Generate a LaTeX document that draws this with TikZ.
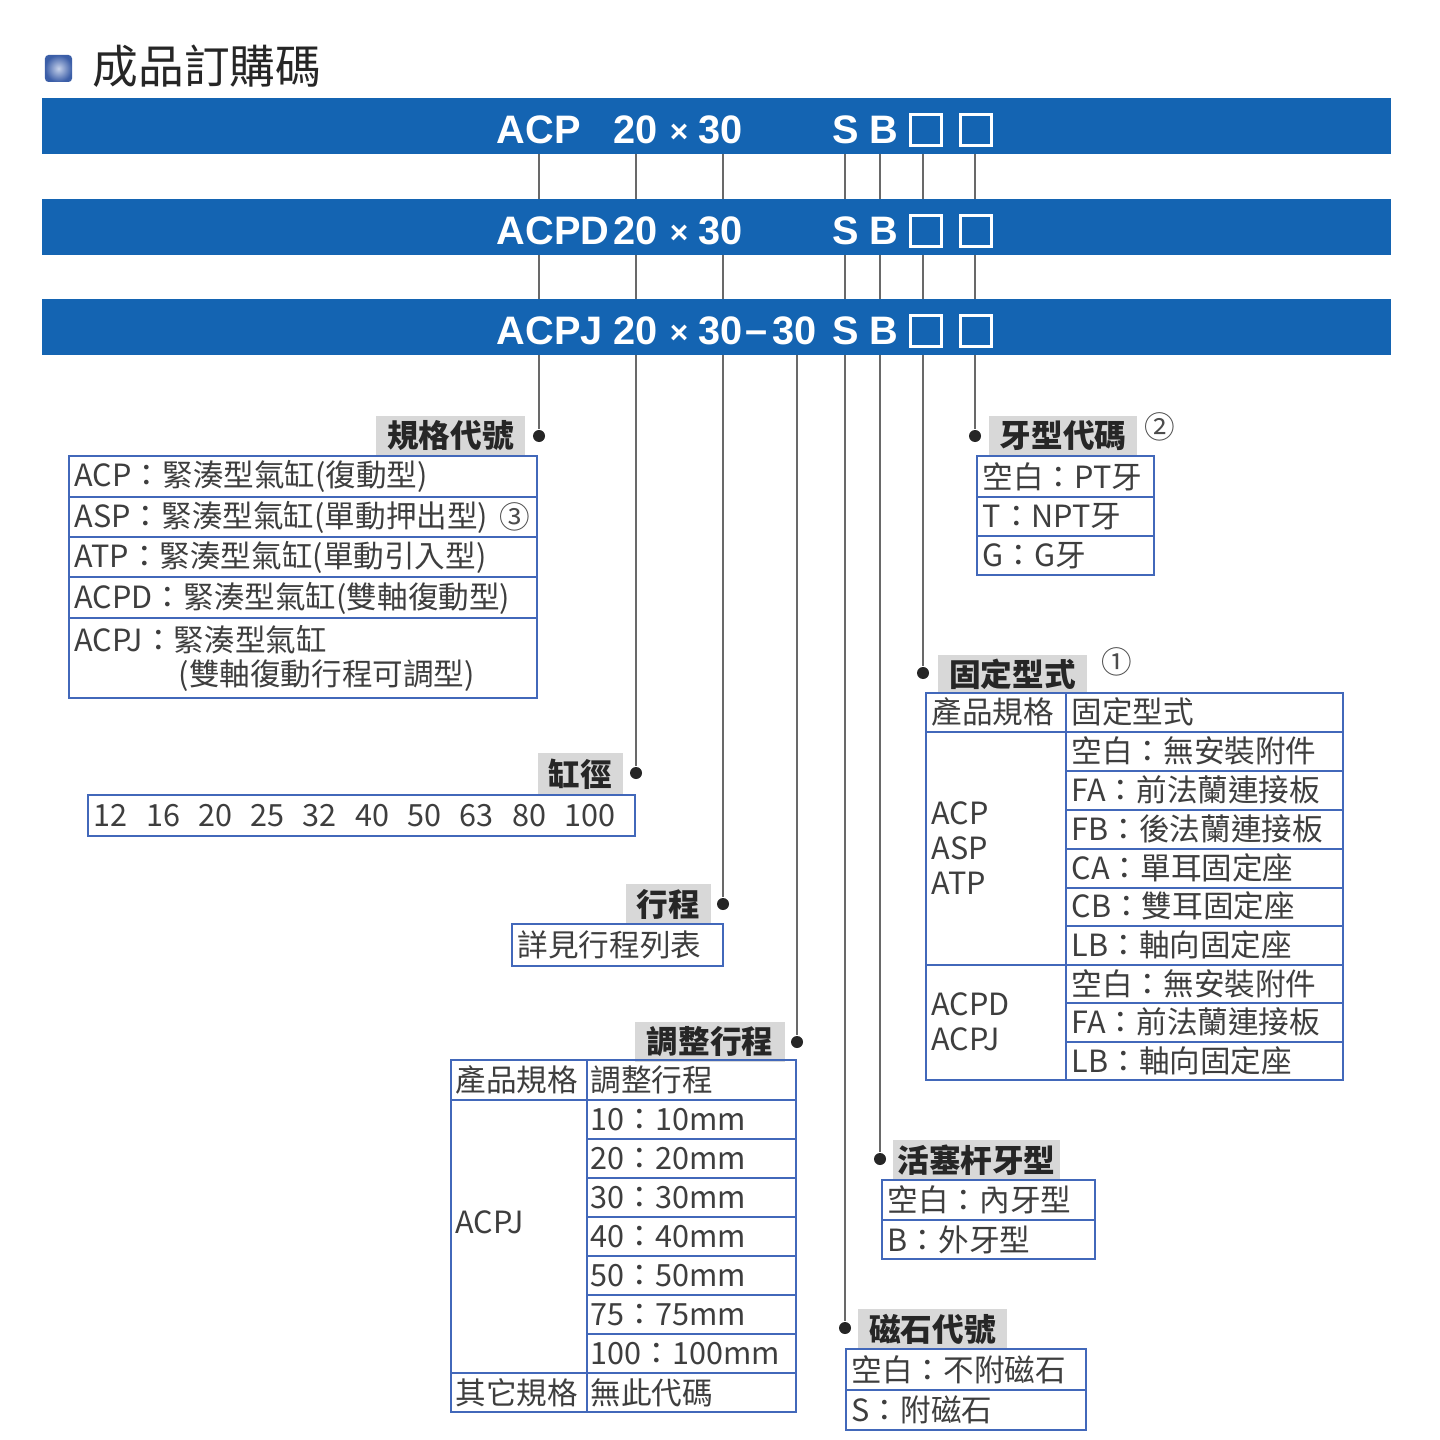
\documentclass[tikz,border=0pt]{standalone}
\usepackage{fontspec}
\setmainfont{Liberation Sans}
\newfontfamily\cjk{Noto Sans CJK TC}
\usetikzlibrary{positioning}

\definecolor{barblue}{RGB}{20,100,178}
\definecolor{tblue}{RGB}{66,104,186}
\definecolor{lblgray}{RGB}{216,216,216}
\definecolor{txtgray}{RGB}{62,62,62}
\definecolor{linegray}{RGB}{105,105,105}

\newcommand{\barfont}{\fontsize{11.3}{13}\selectfont\bfseries}
\newcommand{\cellfont}{\cjk\fontsize{8.7}{10}\selectfont}
\newcommand{\lblfont}{\cjk\fontsize{9}{11}\selectfont\bfseries}

\tikzset{
  bar/.style={fill=barblue, anchor=north west, minimum width=13.48cm,
    minimum height=0.56cm, inner sep=0pt},
  code/.style={text=white, font=\barfont, anchor=west, inner sep=0pt},
  blank/.style={draw=white, line width=0.6pt, minimum size=0.31cm, inner sep=0pt},
  tag/.style={fill=lblgray, text=black!85, font=\lblfont, inner sep=0pt,
    minimum height=0.4cm},
  dot/.style={circle, fill=black!85, minimum size=0.12cm, inner sep=0pt},
  lead/.style={draw=linegray, line width=0.6pt},
  grid/.style={draw=tblue, line width=0.6pt},
  cell/.style={text=txtgray, font=\cellfont, anchor=west, inner sep=0pt, align=left},
  circnum/.style={text=black!70, font=\cellfont, inner sep=0pt}
}

\begin{document}
\begin{tikzpicture}[x=0.01cm,y=-0.01cm]
  \useasboundingbox (0,0) rectangle (1440,1440);
  \fill[white] (0,0) rectangle (1440,1440);
  % title
  \node[minimum size=0.27cm, inner sep=0pt, rounded corners=1pt,
        inner color=white!70!tblue, outer color=tblue!90!black] (icon) at (58.5,68.5) {};
  \node[anchor=west, inner sep=0pt, font=\cjk\fontsize{13}{15}\selectfont, text=black!85]
        (title) at (92,66) {成品訂購碼};
  % first bar
  \node[bar] (bar1) at (41,97) {};
  % dots
  \node[dot] (dspec) at (539,436) {};
  \node[dot] (dbore) at (636,773) {};
  \node[dot] (dstk)  at (723,904) {};
  \node[dot] (dadj)  at (797,1042) {};
  \node[dot] (dmag)  at (845,1328) {};
  \node[dot] (drod)  at (880,1159) {};
  \node[dot] (dmnt)  at (923,673) {};
  \node[dot] (dthr)  at (975,436) {};
  % leads
  \foreach \d in {dspec,dbore,dstk,dmag,drod,dmnt,dthr}
    \draw[lead] (bar1.south -| \d) -- (\d);
  % other bars
  \node[bar] (bar2) at (41,198) {};
  \node[bar] (bar3) at (41,298) {};
  \draw[lead] (bar3.south -| dadj) -- (dadj);
  % codes on bars
  \node[code] (c1a) at (496,130) {ACP};
  \node[code] (c2a) at (496,231) {ACPD};
  \node[code] (c3a) at (496,331) {ACPJ};
  \foreach \y [count=\i] in {130,231,331} {
    \node[code] (n\i) at (613,\y) {20};
    \node[code, anchor=base, font=\fontsize{9}{10}\selectfont\bfseries] (x\i) at (679,\y+13) {×};
    \node[code] (m\i) at (698,\y) {30};
    \node[code] (s\i) at (832,\y) {S};
    \node[code] (b\i) at (869,\y) {B};
    \node[blank] (p\i) at (926,\y) {};
    \node[blank] (q\i) at (976,\y) {};
  }
  \node[code, anchor=base] (dash) at (757,344) {–};
  \node[code] (j3) at (772,331) {30};

  % spec code
  \node[tag, minimum width=1.49cm] (tspec) at (450.5,436) {規格代號};
  \draw[grid] (69,456) rectangle (537,698);
  \foreach \y in {497,537,577,618}
    \draw[grid] (69,\y) -- (537,\y);
  \foreach \t [count=\i] in {{ACP：緊湊型氣缸(復動型)},{ASP：緊湊型氣缸(單動押出型)},
      {ATP：緊湊型氣缸(單動引入型)},{ACPD：緊湊型氣缸(雙軸復動型)}}
    \node[cell] (sp\i) at (74,{436.5+40.4*\i}) {\t};
  \node[circnum] (three) at (515,517) {③};
  \node[cell] (sp5) at (74,640) {ACPJ：緊湊型氣缸};
  \node[cell] (sp6) at (178,676) {(雙軸復動行程可調型)};

  % thread code
  \node[tag, minimum width=1.48cm] (tthr) at (1063,436) {牙型代碼};
  \node[circnum] (two) at (1160,427) {②};
  \draw[grid] (977,456) rectangle (1154,575);
  \foreach \y in {497,536}
    \draw[grid] (977,\y) -- (1154,\y);
  \foreach \t [count=\i] in {{空白：PT牙},{T：NPT牙},{G：G牙}}
    \node[cell] (th\i) at (982,{437.5+39.5*\i}) {\t};

  % mounting
  \node[tag, minimum width=1.49cm, minimum height=0.38cm] (tmnt) at (1012.5,674) {固定型式};
  \node[circnum] (one) at (1117,662) {①};
  \draw[grid] (926,693) rectangle (1343,1080);
  \draw[grid] (1066,693) -- (1066,1080);
  \foreach \y in {732,965}
    \draw[grid] (926,\y) -- (1343,\y);
  \foreach \y in {771,810,849,888,926,1003,1042}
    \draw[grid] (1066,\y) -- (1343,\y);
  \node[cell] (mh1) at (931,712) {產品規格};
  \node[cell] (mh2) at (1071,712) {固定型式};
  \foreach \t [count=\i] in {{空白：無安裝附件},{FA：前法蘭連接板},{FB：後法蘭連接板},
      {CA：單耳固定座},{CB：雙耳固定座},{LB：軸向固定座},{空白：無安裝附件},
      {FA：前法蘭連接板},{LB：軸向固定座}}
    \node[cell] (mt\i) at (1071,{712.6+38.7*\i}) {\t};
  \node[cell] (ml1) at (931,848) {ACP\\ASP\\ATP};
  \node[cell] (ml2) at (931,1022) {ACPD\\ACPJ};

  % bore
  \node[tag, minimum width=0.85cm, minimum height=0.42cm] (tbore) at (580.5,774) {缸徑};
  \draw[grid] (88,795) rectangle (635,836);
  \node[cell] (bore) at (93,816) {12\hspace{0.6em}16\hspace{0.6em}20\hspace{0.6em}25\hspace{0.6em}32\hspace{0.6em}40\hspace{0.6em}50\hspace{0.6em}63\hspace{0.6em}80\hspace{0.6em}100};

  % stroke
  \node[tag, minimum width=0.85cm] (tstk) at (668.5,904) {行程};
  \draw[grid] (512,924) rectangle (723,966);
  \node[cell] (stk) at (517,945) {詳見行程列表};

  % adjustable stroke
  \node[tag, minimum width=1.5cm] (tadj) at (710,1042) {調整行程};
  \draw[grid] (451,1060) rectangle (796,1412);
  \draw[grid] (587,1060) -- (587,1412);
  \foreach \y in {1100,1373}
    \draw[grid] (451,\y) -- (796,\y);
  \foreach \y in {1139,1178,1217,1256,1295,1334}
    \draw[grid] (587,\y) -- (796,\y);
  \node[cell] (ah1) at (455,1080) {產品規格};
  \node[cell] (ah2) at (590,1080) {調整行程};
  \foreach \t [count=\i] in {{10：10mm},{20：20mm},{30：30mm},{40：40mm},
      {50：50mm},{75：75mm},{100：100mm}}
    \node[cell] (ad\i) at (590,{1080.5+39*\i}) {\t};
  \node[cell] (al) at (455,1222) {ACPJ};
  \node[cell] (af1) at (455,1392.5) {其它規格};
  \node[cell] (af2) at (590,1392.5) {無此代碼};

  % rod thread
  \node[tag, minimum width=1.67cm] (trod) at (976.5,1160) {活塞杆牙型};
  \draw[grid] (882,1180) rectangle (1095,1259);
  \draw[grid] (882,1220) -- (1095,1220);
  \node[cell] (rd1) at (887,1200) {空白：內牙型};
  \node[cell] (rd2) at (887,1240) {B：外牙型};

  % magnet
  \node[tag, minimum width=1.49cm] (tmag) at (932.5,1329) {磁石代號};
  \draw[grid] (846,1349) rectangle (1086,1430);
  \draw[grid] (846,1390) -- (1086,1390);
  \node[cell] (mg1) at (851,1370) {空白：不附磁石};
  \node[cell] (mg2) at (851,1410) {S：附磁石};
\end{tikzpicture}
\end{document}
